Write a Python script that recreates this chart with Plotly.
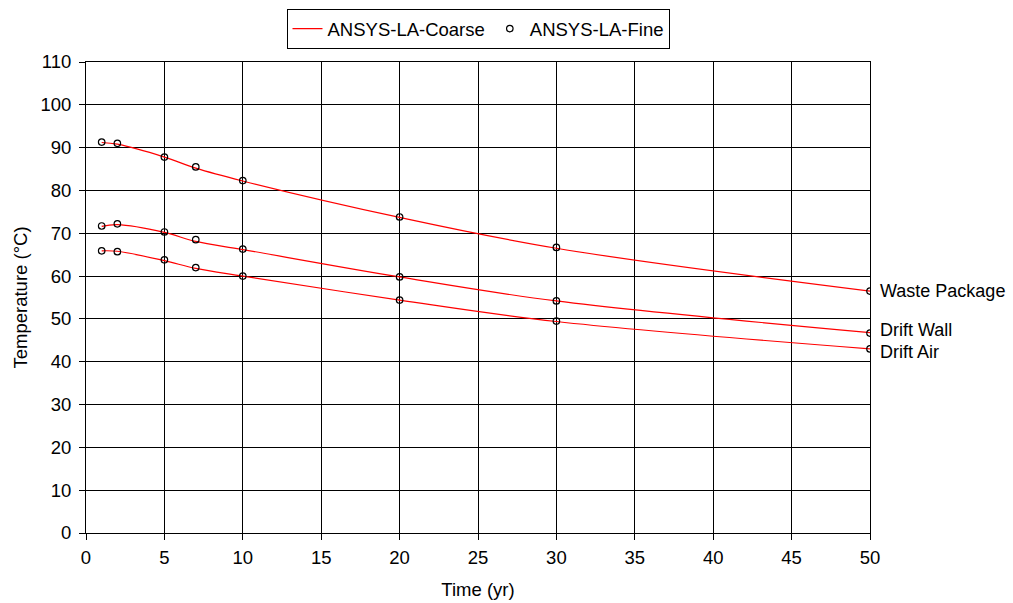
import plotly.graph_objects as go

# Time points (years)
time_yr = [1, 2, 5, 7, 10, 20, 30, 50]

# ANSYS-LA coarse mesh temperatures (°C)
coarse_wp = [91.2, 90.8, 87.8, 85.2, 82.2, 73.7, 66.5, 56.5]
coarse_wall = [71.6, 72.0, 70.2, 68.1, 66.2, 59.8, 54.2, 46.8]
coarse_air = [65.9, 65.8, 63.6, 61.8, 60.0, 54.4, 49.4, 43.0]

# ANSYS-LA fine mesh temperatures (°C)
fine_wp = [91.3, 91.0, 87.8, 85.5, 82.3, 73.8, 66.7, 56.5]
fine_wall = [71.7, 72.2, 70.3, 68.5, 66.3, 59.8, 54.2, 46.7]
fine_air = [65.9, 65.7, 63.8, 62.0, 60.0, 54.4, 49.5, 43.0]

curve_labels = ["Waste Package", "Drift Wall", "Drift Air"]
label_offsets = [0, 3, -3]

FONT = "Liberation Sans, Arial, sans-serif"
FS = 18.5

fig = go.Figure()

for i, ys in enumerate([coarse_wp, coarse_wall, coarse_air]):
    fig.add_trace(go.Scatter(
        x=time_yr, y=ys, mode="lines",
        line=dict(color="#ff0000", width=1.2),
        name="ANSYS-LA-Coarse", showlegend=(i == 0),
        line_shape="spline",
    ))

for i, ys in enumerate([fine_wp, fine_wall, fine_air]):
    fig.add_trace(go.Scatter(
        x=time_yr, y=ys, mode="markers",
        marker=dict(symbol="circle-open", size=6.5, color="black",
                    line=dict(color="black", width=1.2)),
        name="ANSYS-LA-Fine", showlegend=(i == 0),
    ))

for lab, ys, off in zip(curve_labels, [fine_wp, fine_wall, fine_air], label_offsets):
    fig.add_annotation(
        x=time_yr[-1], y=ys[-1], text=lab, showarrow=False,
        xanchor="left", yanchor="middle", xshift=8, yshift=off,
        font=dict(family=FONT, size=18, color="black"),
    )

axis_common = dict(
    showgrid=True, gridcolor="black", gridwidth=1,
    showline=True, linecolor="black", linewidth=1, mirror=True,
    ticks="outside", ticklen=6, tickcolor="black",
    tickfont=dict(family=FONT, size=FS, color="black"),
    zeroline=False,
)

fig.update_xaxes(range=[0, 50], dtick=5, tick0=0, ticklabelstandoff=2,
                 title=dict(text="Time (yr)", font=dict(family=FONT, size=FS, color="black"), standoff=15),
                 **axis_common)
fig.update_yaxes(range=[0, 110], dtick=10, tick0=0, ticklabelstandoff=4,
                 title=dict(text="Temperature (°C)", font=dict(family=FONT, size=FS, color="black"), standoff=7),
                 **axis_common)

fig.update_layout(
    width=1013, height=603,
    margin=dict(l=86, r=143, t=62, b=70, autoexpand=False),
    plot_bgcolor="white", paper_bgcolor="white",
    font=dict(family=FONT, size=FS, color="black"),
    legend=dict(
        orientation="h", x=0.5, xanchor="center",
        yref="container", y=0.985, yanchor="top",
        bordercolor="black", borderwidth=1, bgcolor="white",
        font=dict(family=FONT, size=FS, color="black"),
        itemwidth=30, tracegroupgap=0,
    ),
)

fig.write_html("out.html")
